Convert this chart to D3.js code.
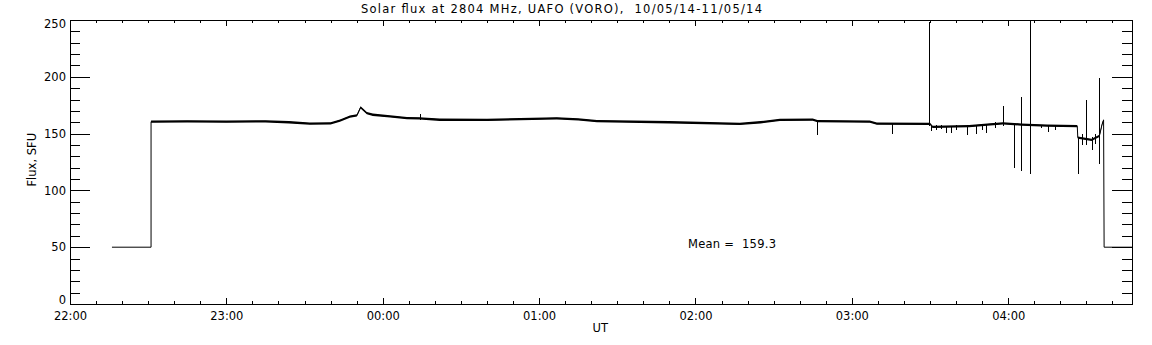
<!DOCTYPE html>
<html>
<meta charset="utf-8">
<head>
<style>
    body {
        margin: 0;
        background: #fff;
    }

    text {
        font-family: "DejaVu Sans", sans-serif;
        font-size: 11.5px;
        fill: #000;
    }

    .axis path,
    .axis line {
        stroke: #000;
        shape-rendering: crispEdges;
    }

    .trace {
        fill: none;
        stroke: #000;
        stroke-width: 1;
    }

    .band {
        fill: #000;
        stroke: none;
    }

    .spike {
        stroke: #000;
        stroke-width: 1;
        shape-rendering: crispEdges;
    }
</style>
</head>
<body>
<div id="chart"></div>
<script src="https://cdn.jsdelivr.net/npm/d3@7"></script>
<script>
// time is in minutes after 22:00 UT (10/05/14)
const hourMinutes = [0, 60, 120, 180, 240, 300, 360];
const hourLabels = ["22:00", "23:00", "00:00", "01:00", "02:00", "03:00", "04:00"];
const fluxTicks = [0, 50, 100, 150, 200, 250];

const traceMinutes = [16.1, 31.1, 31.1, 45, 60, 75, 84, 92, 100, 103.6, 107.4, 110.1, 111.5, 113.9,
    116.2, 122.8, 129.3, 134, 141.9, 160, 186.8, 195, 202.2, 230, 257, 265, 272.4, 285, 286.8,
    306.9, 309.6, 330, 331, 345, 352, 358, 365, 375, 386.5, 386.7, 392, 395, 396, 396.6, 396.8, 407.5];
const traceFlux = [50, 50, 160.5, 160.8, 160.5, 160.8, 160, 158.8, 159, 161.5, 165, 166, 173, 168,
    166.6, 165.1, 163.7, 163.5, 162.2, 162, 163.5, 162.5, 161, 160, 158.5, 160, 162, 162.3, 161,
    160.5, 158.7, 158.5, 156, 156.5, 158, 159, 158, 157, 156.5, 146.5, 144.5, 148, 158, 162, 50, 50];

// short glitches: time, lowest and highest flux
const spikeMinutes = [134.3, 286.9, 315.5, 329.9, 330.7, 332.6, 334.5, 336.4, 338.4, 340.2,
    344.5, 348, 350, 351.8, 355.2, 358.3, 362.5, 365.2, 368.7, 372.9, 375.6, 378.1,
    387, 388.6, 390.1, 392.5, 393.6, 395.1];
const spikeLow = [162, 149, 149.6, 157, 152.5, 153, 154, 150.7, 150.7, 153,
    148.4, 150, 153.5, 150.5, 155, 157, 120, 116.7, 114.6, 154.5, 151, 153.5,
    114.7, 140, 140, 135.8, 141, 122.9];
const spikeHigh = [167.2, 161, 158.7, 248, 157, 158, 158, 157, 157, 158,
    157, 157, 158.5, 158, 160, 174.5, 158, 182.5, 249, 158, 157, 158,
    147, 150, 179.8, 147, 150, 199];

const meanFlux = 159.3;

const width = 1152;
const height = 345;
const margin = { top: 20, right: 20, bottom: 41, left: 70 };

const x = d3.scaleLinear()
    .domain([0, 407.5])
    .range([margin.left, width - margin.right]);

const y = d3.scaleLinear()
    .domain([0, 250])
    .range([height - margin.bottom, margin.top]);

const svg = d3.select("#chart")
    .append("svg")
    .attr("width", width)
    .attr("height", height);

const minorX = d3.range(0, 407.5, 10).filter(d => d % 60 != 0);
const minorY = d3.range(0, 251, 10).filter(d => d % 50 != 0);

// frame with ticks pointing inward
function xAxis(side, values, size) {
    const ax = side == "bottom" ? d3.axisBottom(x) : d3.axisTop(x);
    return ax.tickValues(values).tickSize(-size).tickSizeOuter(0);
}

function yAxis(side, values, size) {
    const ax = side == "left" ? d3.axisLeft(y) : d3.axisRight(y);
    return ax.tickValues(values).tickSize(-size).tickSizeOuter(0);
}

const gBottom = svg.append("g")
    .attr("class", "axis")
    .attr("transform", "translate(0," + y(0) + ")");
gBottom.call(xAxis("bottom", hourMinutes, 6)
    .tickFormat((d, i) => hourLabels[i]));
gBottom.append("g").call(xAxis("bottom", minorX, 3).tickFormat(""));
gBottom.selectAll("text").attr("dy", "1.1em").attr("y", 3);

const gTop = svg.append("g")
    .attr("class", "axis")
    .attr("transform", "translate(0," + y(250) + ")");
gTop.call(xAxis("top", hourMinutes, 6).tickFormat(""));
gTop.append("g").call(xAxis("top", minorX, 3).tickFormat(""));

const gLeft = svg.append("g")
    .attr("class", "axis")
    .attr("transform", "translate(" + x(0) + ",0)");
gLeft.call(yAxis("left", fluxTicks, 20));
gLeft.append("g").call(yAxis("left", minorY, 10).tickFormat(""));
gLeft.selectAll("text")
    .attr("x", -4)
    // end labels are nudged inside the frame, like IDL does
    .attr("y", d => d == 0 ? -4 : d == 250 ? 4 : 0);

const gRight = svg.append("g")
    .attr("class", "axis")
    .attr("transform", "translate(" + x(407.5) + ",0)");
gRight.call(yAxis("right", fluxTicks, 20).tickFormat(""));
gRight.append("g").call(yAxis("right", minorY, 10).tickFormat(""));

svg.selectAll(".axis text")
    .style("font-family", "DejaVu Sans, sans-serif")
    .style("font-size", "11.5px");

// data
const points = traceMinutes.map((m, i) => ({ m: m, v: traceFlux[i] }));

svg.append("path")
    .datum(points)
    .attr("class", "band")
    .attr("d", d3.area()
        .defined(d => d.v > 100)
        .x(d => x(d.m))
        .y0(d => y(d.v - 1.0))
        .y1(d => y(d.v + 1.0)));

svg.append("path")
    .datum(points)
    .attr("class", "trace")
    .attr("d", d3.line()
        .x(d => x(d.m))
        .y(d => y(d.v)));

svg.selectAll(".spike")
    .data(spikeMinutes)
    .enter()
    .append("line")
    .attr("class", "spike")
    .attr("x1", d => x(d))
    .attr("x2", d => x(d))
    .attr("y1", (d, i) => y(spikeLow[i]))
    .attr("y2", (d, i) => y(spikeHigh[i]));

// labels
svg.append("text")
    .attr("x", 361)
    .attr("y", 13)
    .attr("textLength", 401)
    .attr("lengthAdjust", "spacing")
    .style("white-space", "pre")
    .text("Solar flux at 2804 MHz, UAFO (VORO),  10/05/14-11/05/14");

svg.append("text")
    .attr("x", x(203.5))
    .attr("y", 332)
    .attr("text-anchor", "middle")
    .text("UT");

svg.append("text")
    .attr("transform", "translate(36," + y(127) + ") rotate(-90)")
    .attr("text-anchor", "middle")
    .text("Flux, SFU");

svg.append("text")
    .attr("x", 688)
    .attr("y", 248)
    .attr("textLength", 88)
    .attr("lengthAdjust", "spacing")
    .style("white-space", "pre")
    .text("Mean =  " + meanFlux.toFixed(1));
</script>
</body>
</html>
